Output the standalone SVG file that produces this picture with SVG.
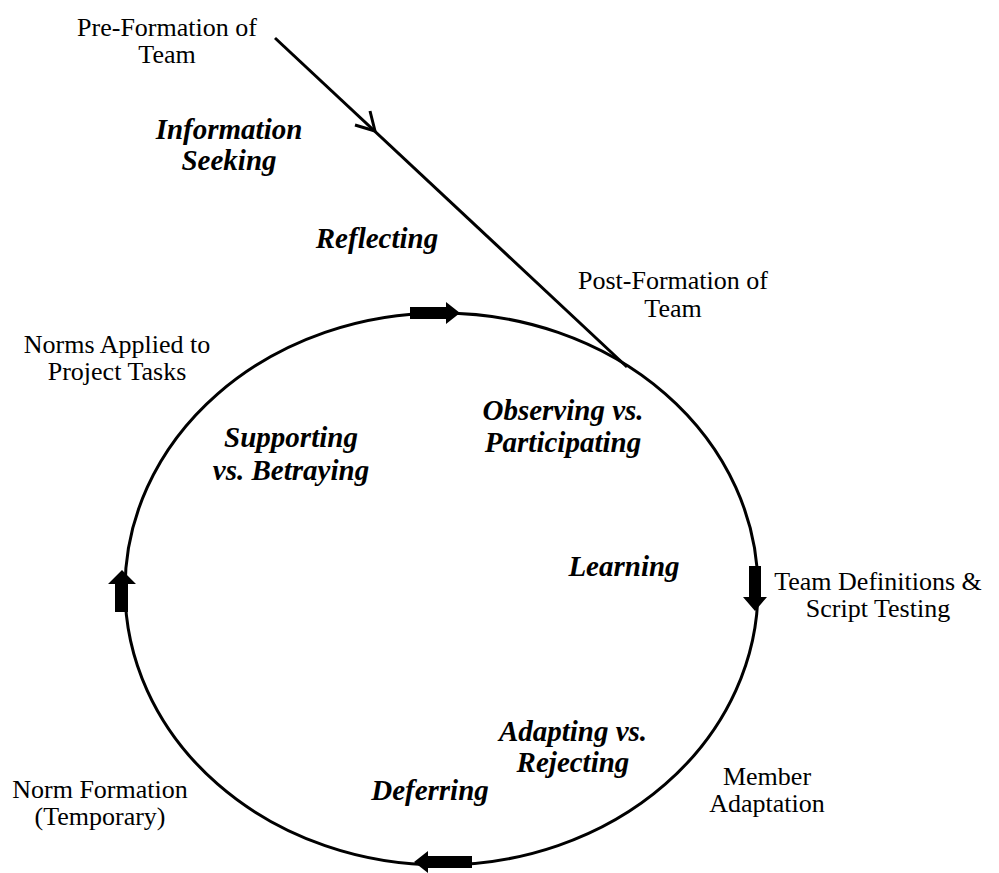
<svg xmlns="http://www.w3.org/2000/svg" width="999" height="873" viewBox="0 0 999 873">
<style>
.n{font-family:"Liberation Serif","Times New Roman",serif;font-size:26px;fill:#000;text-anchor:middle}
.b{font-family:"Liberation Serif","Times New Roman",serif;font-size:29px;font-weight:bold;font-style:italic;fill:#000;text-anchor:middle}
.ln{fill:none;stroke:#000;stroke-width:3}
.ar{fill:#000;stroke:none}
</style>
<rect width="999" height="873" fill="#fff"/>
<g id="connectors">
<ellipse class="ln" cx="441.5" cy="589" rx="316.5" ry="276"/>
<line class="ln" x1="275" y1="38" x2="627" y2="367"/>
<polyline class="ln" points="355,125 375,131 370,111"/>
<path class="ar" d="M410,307 H446 V302 L460,313 L446,324 V319 H410 Z"/>
<path class="ar" d="M749,566 V597 H743 L755,611 L767,597 H761 V566 Z"/>
<path class="ar" d="M472,856 H428 V851 L414,862 L428,873 V868 H472 Z"/>
<path class="ar" d="M115,612 V584 H108 L122,570 L136,584 H128 V612 Z"/>
</g>
<g id="pre-formation"><text class="n" x="167" y="36">Pre-Formation of</text><text class="n" x="167" y="63">Team</text></g>
<g id="information-seeking"><text class="b" x="229" y="139">Information</text><text class="b" x="229" y="170">Seeking</text></g>
<g id="reflecting"><text class="b" x="377" y="248">Reflecting</text></g>
<g id="post-formation"><text class="n" x="673" y="289">Post-Formation of</text><text class="n" x="673" y="317">Team</text></g>
<g id="norms-applied"><text class="n" x="117" y="353">Norms Applied to</text><text class="n" x="117" y="380">Project Tasks</text></g>
<g id="observing"><text class="b" x="563" y="420">Observing vs.</text><text class="b" x="563" y="452">Participating</text></g>
<g id="supporting"><text class="b" x="291" y="447">Supporting</text><text class="b" x="291" y="480">vs. Betraying</text></g>
<g id="learning"><text class="b" x="624" y="576">Learning</text></g>
<g id="team-definitions"><text class="n" x="878" y="590">Team Definitions &amp;</text><text class="n" x="878" y="617">Script Testing</text></g>
<g id="adapting"><text class="b" x="573" y="741">Adapting vs.</text><text class="b" x="573" y="772">Rejecting</text></g>
<g id="member-adaptation"><text class="n" x="767" y="785">Member</text><text class="n" x="767" y="812">Adaptation</text></g>
<g id="norm-formation"><text class="n" x="100" y="798">Norm Formation</text><text class="n" x="100" y="825">(Temporary)</text></g>
<g id="deferring"><text class="b" x="430" y="800">Deferring</text></g>
</svg>
